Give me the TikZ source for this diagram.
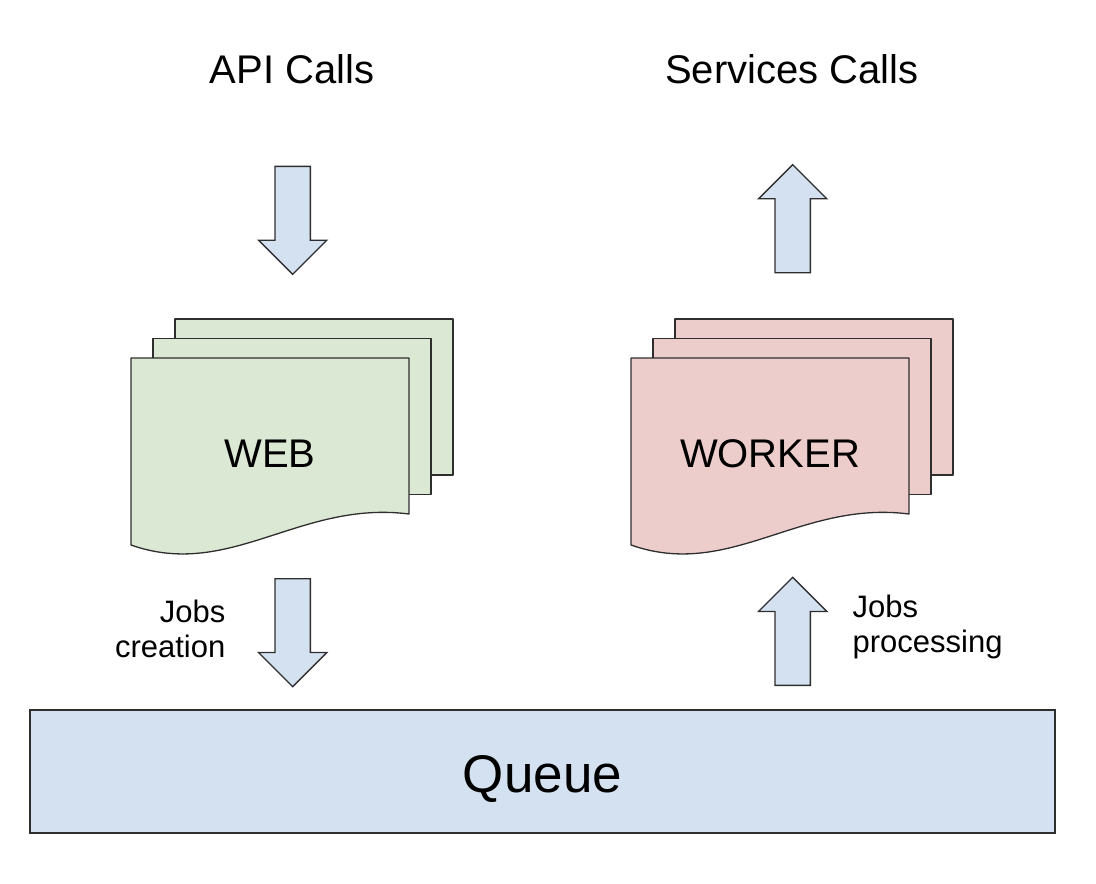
\documentclass[tikz,border=0pt]{standalone}
\usepackage{fontspec}
\setmainfont{Liberation Sans}
\usetikzlibrary{shapes.arrows,positioning}
\definecolor{queueblue}{HTML}{D3E1F1}
\definecolor{webgreen}{HTML}{DBE8D4}
\definecolor{workerred}{HTML}{EDCDCC}
\definecolor{edgegray}{HTML}{2E2E2E}

\begin{document}
\begin{tikzpicture}[x=1pt,y=-1pt,line width=1.3pt,
    title/.style={font=\fontsize{40}{48}\selectfont,anchor=base,inner sep=0},
    note/.style={font=\fontsize{31}{35}\selectfont,inner sep=0},
    page/.style={draw=edgegray,line join=round},
    fat arrow/.style={single arrow,draw=edgegray,fill=queueblue,line join=miter,
      minimum height=108pt,inner sep=17pt,anchor=tail,
      single arrow head extend=16.5pt,single arrow tip angle=90}]
  \useasboundingbox (0,0) rectangle (1096,884);

  % titles
  \node[title] (api) at (292,83) {API Calls};
  \node[title] (services) at (792,83) {Services Calls};

  % stacked pages
  \foreach \dx/\col/\txt/\name in {0/webgreen/WEB/web, 500/workerred/WORKER/worker} {
    \foreach \i in {2,1}
      \draw[page,fill=\col] ({131+\dx+22*\i},{358-19.5*\i}) rectangle ++(278,156);
    \draw[page,fill=\col] ({131+\dx},358) -- ({409+\dx},358) -- ({409+\dx},514)
      .. controls ({300+\dx},500) and ({230+\dx},580) .. ({131+\dx},545) -- cycle;
    \node[title] (\name) at ({270+\dx},467) {\txt};
  }

  % queue
  \node[draw=edgegray,fill=queueblue,minimum width=1025pt,minimum height=123pt,
        inner sep=0,text height=42pt,text depth=0pt,
        font=\fontsize{53}{60}\selectfont] (queue) at (542.5,771.5) {Queue};

  % arrows
  \node[fat arrow,shape border rotate=270] (apiarrow) at (292.7,165.7) {};
  \node[fat arrow,shape border rotate=90] (servicesarrow) at (792.7,273.3) {};
  \node[fat arrow,shape border rotate=270] (createarrow) at (292.7,578) {};
  \node[fat arrow,shape border rotate=90] (processarrow) at (792.7,686) {};

  \node[note,align=right,anchor=north east] (creation) at (226,599.8) {Jobs\\creation};
  \node[note,align=left,anchor=north west] (processing) at (852,594.8) {Jobs\\processing};
\end{tikzpicture}
\end{document}
